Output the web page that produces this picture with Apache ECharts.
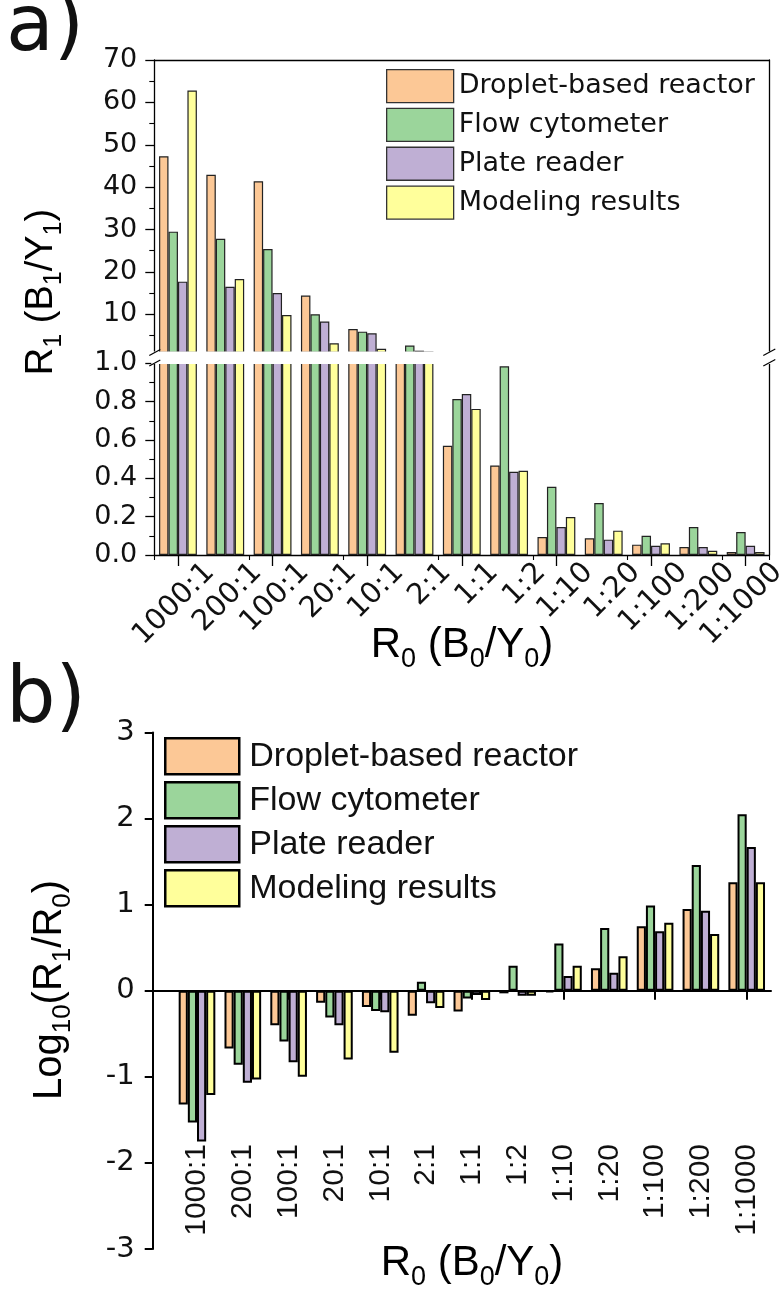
<!DOCTYPE html>
<html><head><meta charset="utf-8">
<script src="https://cdn.jsdelivr.net/npm/echarts@6/dist/echarts.min.js"></script>
<style>html,body{margin:0;padding:0;background:#fff}#c{width:780px;height:1293px}</style>
</head><body><div id="c"></div>
<script>
// ---------- data ----------
const categories = ['1000:1','200:1','100:1','20:1','10:1','2:1','1:1','1:2','1:10','1:20','1:100','1:200','1:1000'];
const seriesNames = ['Droplet-based reactor','Flow cytometer','Plate reader','Modeling results'];
// panel a: R1 (B1/Y1)
const r1Droplet = [47.3, 42.9, 41.4, 14.4, 6.5, 1.03, 0.57, 0.467, 0.094, 0.087, 0.054, 0.042, 0.016];
const r1Flow    = [29.5, 27.8, 25.4, 10.0, 5.9, 2.6, 0.814, 0.984, 0.356, 0.271, 0.100, 0.146, 0.120];
const r1Plate   = [17.7, 16.5, 15.0, 8.3, 5.5, 1.4, 0.84, 0.434, 0.146, 0.080, 0.048, 0.042, 0.048];
const r1Model   = [62.8, 18.3, 9.8, 3.15, 1.85, 1.2, 0.762, 0.439, 0.198, 0.127, 0.061, 0.022, 0.016];
// panel b: Log10(R1/R0)
const logDroplet = [-1.32, -0.67, -0.40, -0.14, -0.19, -0.29, -0.24, -0.03, -0.02, 0.26, 0.75, 0.95, 1.26];
const logFlow    = [-1.53, -0.86, -0.59, -0.31, -0.235, 0.105, -0.09, 0.29, 0.55, 0.73, 0.99, 1.46, 2.05];
const logPlate   = [-1.75, -1.07, -0.83, -0.40, -0.25, -0.146, -0.05, -0.058, 0.17, 0.21, 0.69, 0.93, 1.67];
const logModel   = [-1.21, -1.03, -1.00, -0.80, -0.72, -0.20, -0.108, -0.058, 0.29, 0.40, 0.79, 0.66, 1.26];
// tick labels
const upperTicks = [10, 20, 30, 40, 50, 60, 70];
const upperMinorTicks = [5, 15, 25, 35, 45, 55, 65];

const colors = ['#FCC896', '#9BD59B', '#BFAFD4', '#FFFF9B'];
const r1Data = [r1Droplet, r1Flow, r1Plate, r1Model];
const logData = [logDroplet, logFlow, logPlate, logModel];

const FA = 'DejaVu Sans';
const FB = 'Liberation Sans';
const black = '#000';

const chart = echarts.init(document.getElementById('c'), null, {renderer: 'canvas'});

// geometry (layout only)
const aLeft = 154.3, aWidth = 615;
const aTopU = 60, aHU = 292.4;
const aTopL = 363.3, aHL = 191.7;
const bLeftFull = 152.7, bWFull = 618.3;
const bLeft = 174.1, bWidth = 595.5;
const bTop = 732.5, bH = 516.5;

const hid = {show: false};
const noSplit = {show: false};

const grid = [
  {left: aLeft, top: aTopU, width: aWidth, height: aHU},          // 0 panel a upper
  {left: aLeft, top: aTopL, width: aWidth, height: aHL},          // 1 panel a lower
  {left: aLeft + 32, top: aTopL, width: aWidth, height: aHL},     // 2 panel a label axis
  {left: bLeftFull, top: bTop, width: bWFull, height: bH},        // 3 panel b frame
  {left: bLeft, top: bTop, width: bWidth, height: bH},            // 4 panel b bars
  {left: bLeft, top: bTop, width: bWidth, height: 1136 - bTop}    // 5 panel b label axis
].map(g => Object.assign({outerBoundsMode: 'none', containLabel: false}, g));

const lineS = {lineStyle: {color: black, width: 1.3}};

const xAxis = [
  {gridIndex: 0, type: 'category', data: categories, position: 'top',
   axisLine: Object.assign({show: true, onZero: false}, lineS), axisTick: hid, axisLabel: hid},
  {gridIndex: 1, type: 'category', data: categories, position: 'bottom',
   axisLine: Object.assign({show: true, onZero: false}, lineS),
   axisTick: {show: true, alignWithLabel: true, length: 11, lineStyle: {color: black, width: 1.3}}, axisLabel: hid},
  {gridIndex: 1, type: 'category', data: categories, position: 'bottom',
   axisLine: {show: false, onZero: false},
   axisTick: {show: true, length: 5, lineStyle: {color: black, width: 1.1}}, axisLabel: hid},
  {gridIndex: 2, type: 'category', data: categories, position: 'bottom',
   axisLine: {show: false, onZero: false}, axisTick: hid,
   axisLabel: {show: true, rotate: 45, margin: 13, fontFamily: FA, fontSize: 29, color: '#111', interval: 0}},
  {gridIndex: 3, type: 'value', min: 0, max: 1,
   axisLine: {show: true, onZero: true, lineStyle: {color: black, width: 2}},
   axisTick: hid, axisLabel: hid, splitLine: noSplit},
  {gridIndex: 4, type: 'category', data: categories,
   axisLine: {show: true, onZero: true, lineStyle: {color: black, width: 2}},
   axisTick: {show: true, alignWithLabel: true, length: 9, lineStyle: {color: black, width: 2}}, axisLabel: hid},
  {gridIndex: 5, type: 'category', data: categories, position: 'bottom',
   axisLine: {show: false, onZero: false}, axisTick: hid,
   axisLabel: {show: true, rotate: 90, margin: 8, fontFamily: FB, fontSize: 30, color: '#111', interval: 0}}
];

const yLabA = {fontFamily: FA, fontSize: 27, color: '#111', margin: 17};
const yAxis = [
  {gridIndex: 0, type: 'value', min: 1, max: 70, position: 'left',
   axisLine: Object.assign({show: true}, lineS),
   axisTick: {show: true, length: 9, customValues: upperTicks, lineStyle: {color: black, width: 1.3}},
   axisLabel: Object.assign({customValues: upperTicks}, yLabA), splitLine: noSplit},
  {gridIndex: 0, type: 'value', min: 1, max: 70, position: 'left',
   axisLine: {show: false},
   axisTick: {show: true, length: 5, customValues: upperMinorTicks, lineStyle: {color: black, width: 1.1}},
   axisLabel: hid, splitLine: noSplit},
  {gridIndex: 0, type: 'value', min: 1, max: 70, position: 'right',
   axisLine: Object.assign({show: true}, lineS), axisTick: hid, axisLabel: hid, splitLine: noSplit},
  {gridIndex: 1, type: 'value', min: 0, max: 1, interval: 0.2, position: 'left',
   axisLine: Object.assign({show: true}, lineS),
   axisTick: {show: true, length: 9, lineStyle: {color: black, width: 1.3}},
   minorTick: {show: true, splitNumber: 2, length: 5, lineStyle: {color: black, width: 1.1}},
   axisLabel: Object.assign({formatter: v => v.toFixed(1)}, yLabA), splitLine: noSplit, minorSplitLine: noSplit},
  {gridIndex: 1, type: 'value', min: 0, max: 1, position: 'right',
   axisLine: Object.assign({show: true}, lineS), axisTick: hid, axisLabel: hid, splitLine: noSplit},
  {gridIndex: 3, type: 'value', min: -3, max: 3, interval: 1, position: 'left',
   axisLine: {show: true, onZero: false, lineStyle: {color: black, width: 2}},
   axisTick: {show: true, length: 8, lineStyle: {color: black, width: 2}},
   axisLabel: {fontFamily: FA, fontSize: 29, color: '#111', margin: 18}, splitLine: noSplit},
  {gridIndex: 4, type: 'value', min: -3, max: 3, show: false, splitLine: noSplit},
  {gridIndex: 5, type: 'value', min: -3, max: 3, show: false, splitLine: noSplit},
  {gridIndex: 2, type: 'value', min: 0, max: 1, show: false, splitLine: noSplit}
];

const series = [];
seriesNames.forEach((name, i) => {
  series.push({name, type: 'bar', xAxisIndex: 0, yAxisIndex: 0, data: r1Data[i], clip: true,
    barGap: '0%', barCategoryGap: '20%', z: 2,
    itemStyle: {color: colors[i], borderColor: '#222', borderWidth: 1.2}});
});
seriesNames.forEach((name, i) => {
  series.push({name, type: 'bar', xAxisIndex: 1, yAxisIndex: 3, data: r1Data[i], clip: true,
    barGap: '0%', barCategoryGap: '20%', z: 2,
    itemStyle: {color: colors[i], borderColor: '#222', borderWidth: 1.2}});
});
seriesNames.forEach((name, i) => {
  series.push({name, type: 'bar', xAxisIndex: 5, yAxisIndex: 6, data: logData[i], clip: true,
    barGap: '0%', barCategoryGap: '20%', z: 2,
    itemStyle: {color: colors[i], borderColor: '#000', borderWidth: 2}});
});

const subRich = (main, sub, lh) => ({
  m: {fontFamily: FB, fontSize: main, lineHeight: lh, color: '#111', verticalAlign: 'middle'},
  s: {fontFamily: FB, fontSize: sub, lineHeight: sub, color: '#111', verticalAlign: 'bottom'}
});

const graphic = [
  // break band in panel a
  {type: 'rect', shape: {x: aLeft - 3, y: 351.6, width: aWidth + 6, height: 12.5}, style: {fill: '#fff'}, z: 50},
  {type: 'line', shape: {x1: aLeft - 5, y1: 355.5, x2: aLeft + 6, y2: 349.5}, style: {stroke: black, lineWidth: 1.2}, z: 51},
  {type: 'line', shape: {x1: aLeft - 5, y1: 366, x2: aLeft + 6, y2: 360}, style: {stroke: black, lineWidth: 1.2}, z: 51},
  {type: 'line', shape: {x1: aLeft + aWidth - 6, y1: 355.5, x2: aLeft + aWidth + 6, y2: 349}, style: {stroke: black, lineWidth: 1.2}, z: 51},
  {type: 'line', shape: {x1: aLeft + aWidth - 6, y1: 366, x2: aLeft + aWidth + 6, y2: 359.5}, style: {stroke: black, lineWidth: 1.2}, z: 51},
  // panel labels
  {type: 'text', x: 6, y: -9, style: {text: 'a)', font: '78px "DejaVu Sans"', fill: '#111'}, z: 60},
  {type: 'text', x: 6, y: 663, style: {text: 'b)', font: '78px "DejaVu Sans"', fill: '#111'}, z: 60},
  // axis titles
  {type: 'text', x: 42, y: 292, rotation: Math.PI / 2, z: 60,
   style: {text: '{m|R}{s|1}{m| (B}{s|1}{m|/Y}{s|1}{m|)}', align: 'center', verticalAlign: 'middle', rich: subRich(38, 25, 50)}},
  {type: 'text', x: 462, y: 645, z: 60,
   style: {text: '{m|R}{s|0}{m| (B}{s|0}{m|/Y}{s|0}{m|)}', align: 'center', verticalAlign: 'middle', rich: subRich(42, 27, 56)}},
  {type: 'text', x: 50, y: 990, rotation: Math.PI / 2, z: 60,
   style: {text: '{m|Log}{s|10}{m|(R}{s|1}{m|/R}{s|0}{m|)}', align: 'center', verticalAlign: 'middle', rich: subRich(40, 26, 52)}},
  {type: 'text', x: 472, y: 1263, z: 60,
   style: {text: '{m|R}{s|0}{m| (B}{s|0}{m|/Y}{s|0}{m|)}', align: 'center', verticalAlign: 'middle', rich: subRich(42, 27, 56)}}
];

const legend = [
  {data: seriesNames, orient: 'vertical', left: 381, top: 64, icon: 'rect',
   itemWidth: 67, itemHeight: 33, itemGap: 4.5, selectedMode: false,
   textStyle: {fontFamily: FA, fontSize: 27, color: '#111'},
   itemStyle: {borderColor: '#333', borderWidth: 1.3}},
  {data: seriesNames, orient: 'vertical', left: 159, top: 732, icon: 'rect',
   itemWidth: 74, itemHeight: 36, itemGap: 5.5, selectedMode: false,
   textStyle: {fontFamily: FB, fontSize: 34, color: '#111', padding: [0, 0, 0, 5]},
   itemStyle: {borderColor: '#000', borderWidth: 2.5}}
];

chart.setOption({
  animation: false,
  backgroundColor: '#fff',
  grid, xAxis, yAxis, series, legend, graphic
});
</script></body></html>
